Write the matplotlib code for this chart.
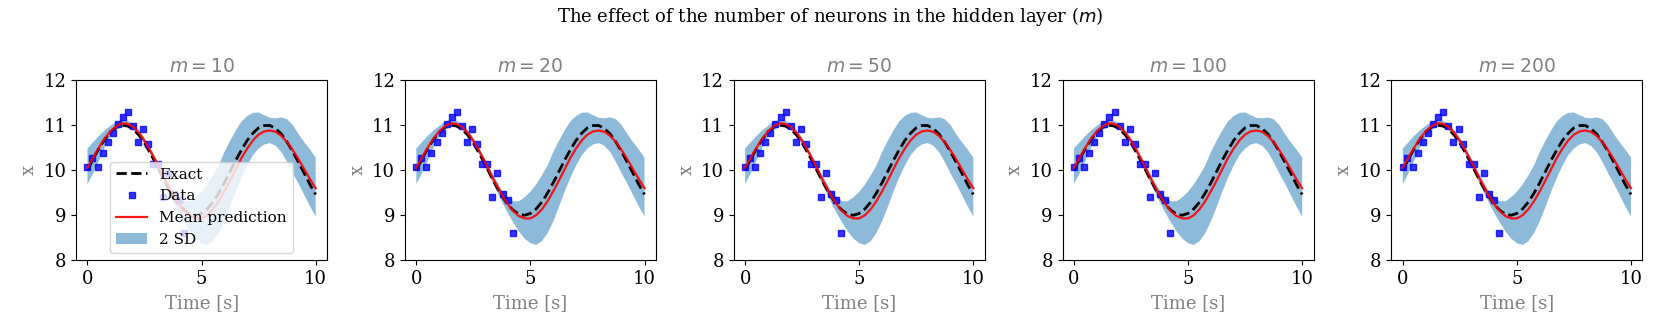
import matplotlib as mpl

mpl.use("Agg")
import matplotlib.pyplot as plt
import numpy as np

# hidden layer sizes, one panel each
neurons = [10, 20, 50, 100, 200]

# observed data (same in every panel)
t_data = [0.0, 0.20, 0.44, 0.66, 0.89, 1.11, 1.33, 1.55, 1.78, 2.00,
          2.22, 2.45, 2.66, 2.89, 3.11, 3.33, 3.55, 3.78, 4.00, 4.22]
x_data = [10.07, 10.26, 10.07, 10.37, 10.63, 10.83, 11.02, 11.17, 11.28, 10.99,
          10.62, 10.91, 10.58, 10.13, 10.14, 9.40, 9.94, 9.47, 9.34, 8.60]

# curves read at 0.25 s steps
t_curve = [0.0, 0.25, 0.5, 0.75, 1.0, 1.25, 1.5, 1.75, 2.0, 2.25,
           2.5, 2.75, 3.0, 3.25, 3.5, 3.75, 4.0, 4.25, 4.5, 4.75,
           5.0, 5.25, 5.5, 5.75, 6.0, 6.25, 6.5, 6.75, 7.0, 7.25,
           7.5, 7.75, 8.0, 8.25, 8.5, 8.75, 9.0, 9.25, 9.5, 9.75, 10.0]
x_exact = [10.00, 10.25, 10.48, 10.68, 10.84, 10.95, 11.00, 10.98, 10.91, 10.78,
           10.60, 10.38, 10.14, 9.89, 9.65, 9.43, 9.24, 9.11, 9.02, 9.00,
           9.04, 9.14, 9.29, 9.49, 9.72, 9.97, 10.22, 10.45, 10.66, 10.82,
           10.94, 10.99, 10.99, 10.92, 10.80, 10.62, 10.41, 10.17, 9.93, 9.68, 9.46]
x_mean = [10.05, 10.28, 10.50, 10.70, 10.86, 10.97, 11.04, 11.03, 10.96, 10.83,
          10.65, 10.43, 10.19, 9.93, 9.68, 9.45, 9.25, 9.09, 8.98, 8.93,
          8.93, 9.00, 9.13, 9.31, 9.53, 9.77, 10.02, 10.27, 10.48, 10.66,
          10.79, 10.86, 10.88, 10.85, 10.76, 10.62, 10.44, 10.24, 10.02, 9.80, 9.60]
x_upper = [10.48, 10.62, 10.76, 10.88, 10.98, 11.07, 11.12, 11.10, 11.03, 10.90,
           10.72, 10.50, 10.27, 10.02, 9.78, 9.56, 9.40, 9.31, 9.31, 9.40,
           9.52, 9.68, 9.88, 10.10, 10.40, 10.65, 10.88, 11.08, 11.20, 11.27,
           11.28, 11.22, 11.16, 11.15, 11.17, 11.13, 11.00, 10.80, 10.62, 10.46, 10.28]
x_lower = [9.69, 9.93, 10.20, 10.50, 10.74, 10.88, 10.96, 10.96, 10.89, 10.76,
           10.58, 10.36, 10.10, 9.83, 9.56, 9.30, 9.06, 8.84, 8.64, 8.48,
           8.38, 8.34, 8.42, 8.60, 8.86, 9.18, 9.52, 9.83, 10.10, 10.33,
           10.48, 10.57, 10.60, 10.54, 10.40, 10.18, 9.93, 9.70, 9.45, 9.20, 8.97]

plt.rcParams["font.family"] = "serif"
plt.rcParams["font.size"] = 13

fig, axes = plt.subplots(1, len(neurons), figsize=(16.61, 3.32), dpi=100)
fig.subplots_adjust(left=0.0458, right=0.9888, top=0.759, bottom=0.216, wspace=0.31)
fig.suptitle("The effect of the number of neurons in the hidden layer ($m$)",
             fontsize=13, y=0.985)

for ax, m in zip(axes, neurons):
    ax.plot(t_curve, x_exact, "k--", lw=2, label="Exact")
    ax.plot(t_data, x_data, "s", color="blue", alpha=0.8, ms=5, label="Data")
    ax.plot(t_curve, x_mean, "r-", lw=1.6, alpha=0.9, label="Mean prediction")
    ax.fill_between(t_curve, x_lower, x_upper, alpha=0.5, lw=0, label="2 SD")
    ax.set_ylim(8, 12)
    ax.set_xticks([0, 5, 10])
    ax.set_yticks([8, 9, 10, 11, 12])
    ax.set_xlabel("Time [s]", color="gray")
    ax.set_ylabel("x", color="gray")
    ax.set_title(f"$m = {m}$", color="gray", fontsize=13.5)

axes[0].legend(loc="lower center", fontsize=11)

fig.savefig("out.png")
plt.close()
